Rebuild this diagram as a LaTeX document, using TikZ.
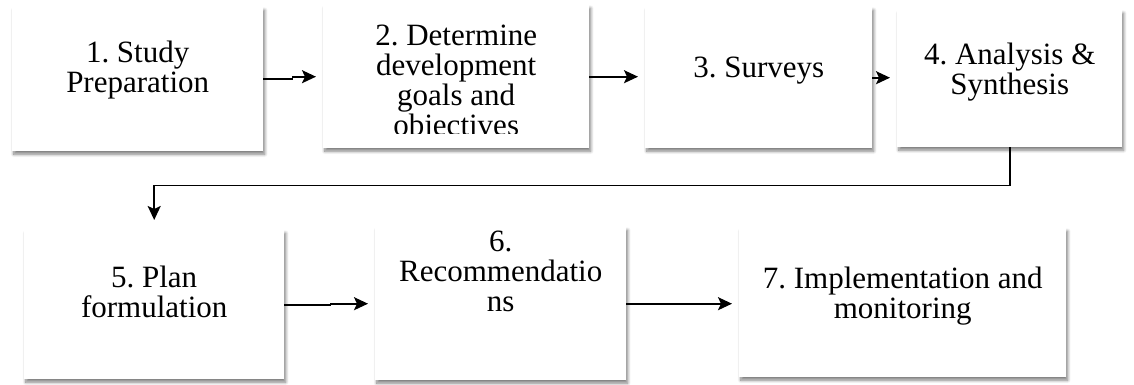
\documentclass[tikz,border=0pt]{standalone}
\usepackage{fontspec}
\setmainfont{Liberation Serif}
\usetikzlibrary{shadows.blur,arrows.meta,calc}
\begin{document}
\begin{tikzpicture}[x=1pt,y=-1pt,
  box/.style={fill=white, draw=none, anchor=north west, inner sep=0pt,
    blur shadow={shadow xshift=1.5pt, shadow yshift=-3pt,
      shadow blur radius=3pt, shadow blur steps=8, shadow opacity=50}},
  lbl/.style={anchor=north, align=center, inner sep=0pt,
    font=\fontsize{31}{30}\selectfont\frenchspacing,
    execute at begin node=\rule{0pt}{22pt}},
  arr/.style={line width=1.8pt,
    -{Stealth[length=14pt,width=13pt,inset=3pt]}, shorten >=7pt}
]
\useasboundingbox (0,0) rectangle (1134,385);

% process steps
\node[box, minimum width=251pt, minimum height=144pt] (b1) at (12,7) {};
\node[box, minimum width=266pt, minimum height=143pt] (b2) at (323,5) {};
\node[box, minimum width=227pt, minimum height=141pt] (b3) at (645,7) {};
\node[box, minimum width=225pt, minimum height=137pt] (b4) at (897,10) {};
\node[box, minimum width=260pt, minimum height=149pt] (b5) at (24,230) {};
\node[box, minimum width=251pt, minimum height=153pt] (b6) at (375,227) {};
\node[box, minimum width=327pt, minimum height=149pt] (b7) at (739,228) {};

% labels (first baseline = north + 22pt)
\node[lbl] (t1) at (b1.north |- 0,41) {1. Study\\Preparation};
\begin{scope}
  \clip (b2.north west) rectangle ($(b2.south east)+(0,-15)$);
  \node[lbl] (t2) at (b2.north |- 0,25) {2. Determine\\development\\goals and\\objectives};
\end{scope}
\node[lbl] (t3) at (b3.north |- 0,55) {3. Surveys};
\node[lbl] (t4) at (b4.north |- 0,43) {4. Analysis \&\\Synthesis};
\node[lbl] (t5) at (b5.north |- 0,266) {5. Plan\\formulation};
\node[lbl] (t6) at (b6.north |- 0,231) {6.\\Recommendatio\\ns};
\node[lbl] (t7) at (b7.north |- 0,267) {7. Implementation and\\monitoring};

% connectors
\draw[arr] (b1.east) -- ++(29,0) |- (b2.west);
\draw[arr] (b2.east) -- (b2.east -| b3.west);
\draw[arr] (b3.east) -- (b3.east -| b4.west);
\draw[arr, shorten >=10pt] (b4.south) -- ++(0,38) -| (b5.north);
\draw[arr] (b5.east) -- ++(46,0) |- (b6.west);
\draw[arr] (b6.east) -- (b6.east -| b7.west);
\end{tikzpicture}
\end{document}
